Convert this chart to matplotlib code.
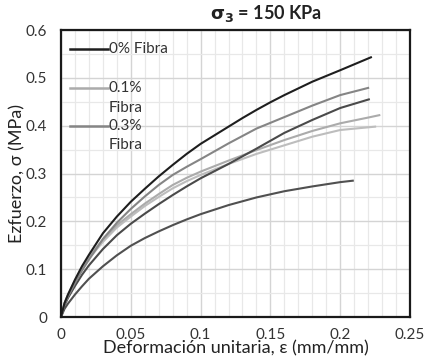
import matplotlib
matplotlib.use("Agg")
import matplotlib.pyplot as plt
from matplotlib.ticker import MultipleLocator
from matplotlib.lines import Line2D

plt.rcParams['font.family'] = ['Lato', 'DejaVu Sans']

# 0% Fibra, sample A (black)
x_f0a = [0, 0.0025, 0.005, 0.01, 0.015, 0.02, 0.03, 0.04, 0.05, 0.06, 0.07, 0.08, 0.09, 0.10,
         0.12, 0.13, 0.14, 0.15, 0.16, 0.18, 0.20, 0.222]
y_f0a = [0, 0.029, 0.047, 0.078, 0.106, 0.130, 0.175, 0.210, 0.241, 0.268, 0.294, 0.318, 0.341, 0.362,
         0.398, 0.416, 0.433, 0.449, 0.464, 0.492, 0.516, 0.543]

# 0% Fibra, sample B (dark gray, lowest)
x_f0b = [0, 0.0025, 0.005, 0.01, 0.015, 0.02, 0.03, 0.04, 0.05, 0.06, 0.07, 0.08, 0.09, 0.10,
         0.12, 0.14, 0.16, 0.18, 0.20, 0.209]
y_f0b = [0, 0.017, 0.028, 0.047, 0.064, 0.080, 0.106, 0.129, 0.149, 0.165, 0.179, 0.192, 0.204, 0.215,
         0.234, 0.250, 0.263, 0.273, 0.282, 0.285]

# 0.1% Fibra, sample A (light gray, ends ~0.42)
x_f1a = [0, 0.0025, 0.005, 0.01, 0.015, 0.02, 0.03, 0.04, 0.05, 0.06, 0.07, 0.08, 0.09, 0.10,
         0.12, 0.14, 0.16, 0.18, 0.20, 0.22, 0.228]
y_f1a = [0, 0.029, 0.047, 0.076, 0.103, 0.126, 0.162, 0.192, 0.215, 0.237, 0.257, 0.276, 0.291, 0.304,
         0.327, 0.349, 0.370, 0.389, 0.405, 0.417, 0.422]

# 0.1% Fibra, sample B (light gray, ends ~0.40)
x_f1b = [0, 0.0025, 0.005, 0.01, 0.015, 0.02, 0.03, 0.04, 0.05, 0.06, 0.07, 0.08, 0.09, 0.10,
         0.12, 0.14, 0.16, 0.18, 0.20, 0.225]
y_f1b = [0, 0.028, 0.045, 0.073, 0.099, 0.122, 0.157, 0.187, 0.210, 0.232, 0.251, 0.269, 0.284, 0.297,
         0.320, 0.341, 0.359, 0.377, 0.391, 0.398]

# 0.3% Fibra, sample A (medium gray, ends ~0.48)
x_f3a = [0, 0.0025, 0.005, 0.01, 0.015, 0.02, 0.03, 0.04, 0.05, 0.06, 0.07, 0.08, 0.09, 0.10,
         0.12, 0.14, 0.16, 0.18, 0.20, 0.22]
y_f3a = [0, 0.026, 0.043, 0.071, 0.097, 0.120, 0.163, 0.197, 0.226, 0.252, 0.276, 0.297, 0.314, 0.330,
         0.363, 0.394, 0.418, 0.442, 0.464, 0.479]

# 0.3% Fibra, sample B (dark gray, ends ~0.455)
x_f3b = [0, 0.0025, 0.005, 0.01, 0.015, 0.02, 0.03, 0.04, 0.05, 0.06, 0.07, 0.08, 0.09, 0.10,
         0.12, 0.14, 0.16, 0.18, 0.20, 0.2205]
y_f3b = [0, 0.024, 0.040, 0.065, 0.088, 0.108, 0.142, 0.171, 0.195, 0.216, 0.236, 0.255, 0.273, 0.290,
         0.320, 0.352, 0.385, 0.412, 0.437, 0.455]

legend_labels = ["0% Fibra", "0.1%\nFibra", "0.3%\nFibra"]
x_ticks = [0, 0.05, 0.1, 0.15, 0.2, 0.25]
x_ticklabels = ["0", "0.05", "0.1", "0.15", "0.2", "0.25"]
y_ticks = [0, 0.1, 0.2, 0.3, 0.4, 0.5, 0.6]
y_ticklabels = ["0", "0.1", "0.2", "0.3", "0.4", "0.5", "0.6"]

c0 = "#1e1e1e"
c0b = "#505050"
c1 = "#ababab"
c1b = "#bdbdbd"
c3 = "#858585"
c3b = "#4a4a4a"

fig = plt.figure(figsize=(4.24, 3.62), dpi=100)
ax = fig.add_axes([0.1439, 0.1243, 0.967 - 0.1439, 0.917 - 0.1243])

lw = 1.5
ax.plot(x_f0b, y_f0b, color=c0b, lw=lw)
ax.plot(x_f1b, y_f1b, color=c1b, lw=lw)
ax.plot(x_f1a, y_f1a, color=c1, lw=lw)
ax.plot(x_f3b, y_f3b, color=c3b, lw=lw)
ax.plot(x_f3a, y_f3a, color=c3, lw=lw)
ax.plot(x_f0a, y_f0a, color=c0, lw=lw)

ax.set_xlim(0, 0.25)
ax.set_ylim(0, 0.6)
ax.set_xticks(x_ticks)
ax.set_xticklabels(x_ticklabels)
ax.set_yticks(y_ticks)
ax.set_yticklabels(y_ticklabels)
ax.xaxis.set_minor_locator(MultipleLocator(0.01))
ax.yaxis.set_minor_locator(MultipleLocator(0.05))
ax.grid(which='major', color='#d4d4d4', lw=1.0)
ax.grid(which='minor', color='#e8e8e8', lw=0.9)
ax.set_axisbelow(True)
ax.tick_params(which='both', length=0)
ax.tick_params(axis='both', labelsize=11, colors='#333333')
ax.tick_params(axis='y', pad=10)
ax.tick_params(axis='x', pad=8)
for s in ax.spines.values():
    s.set_color('#1a1a1a')
    s.set_linewidth(1.6)

ax.set_xlabel("Deformación unitaria, ε (mm/mm)", fontsize=13, color='#222222', labelpad=-1)
ax.set_ylabel("Ezfuerzo, σ (MPa)", fontsize=13, color='#222222', labelpad=0)

ax.text(0.587, 1.02, r"$\mathbf{\sigma_3}$ = 150 KPa", transform=ax.transAxes,
        ha='center', va='bottom', fontsize=13, fontweight='bold', color='#222222')

# manual legend (handle aligned with first text line)
leg_colors = [c0, c1, c3]
leg_y = [0.934, 0.798, 0.666]
line_gap = 0.068
for lab, col, yy in zip(legend_labels, leg_colors, leg_y):
    ax.add_line(Line2D([0.026, 0.135], [yy, yy], transform=ax.transAxes, color=col, lw=1.8))
    for i, part in enumerate(lab.split("\n")):
        ax.text(0.137, yy - i * line_gap, part, transform=ax.transAxes, ha='left',
                va='center', fontsize=11, color='#333333')

fig.savefig("out.png", dpi=100)
